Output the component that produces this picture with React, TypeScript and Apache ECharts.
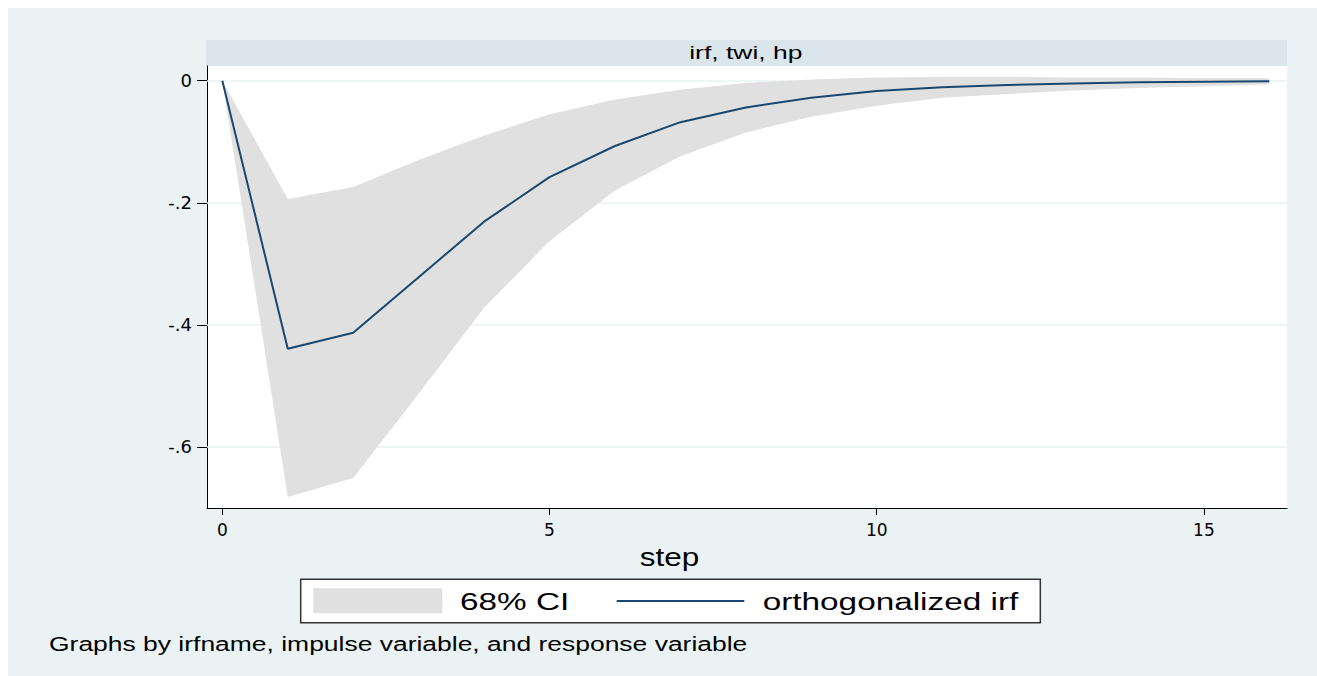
import React, { useEffect, useRef } from "react";
import * as echarts from "echarts";

// ---- data ----
const STEPS = [0, 1, 2, 3, 4, 5, 6, 7, 8, 9, 10, 11, 12, 13, 14, 15, 16];
const IRF = [0, -0.439, -0.413, -0.322, -0.231, -0.158, -0.107, -0.068, -0.044, -0.028, -0.017, -0.011, -0.007, -0.0045, -0.0028, -0.0017, -0.001];
const CI_UPPER = [0, -0.194, -0.174, -0.13, -0.09, -0.055, -0.031, -0.015, -0.004, 0.002, 0.005, 0.006, 0.006, 0.005, 0.005, 0.004, 0.004];
const CI_LOWER = [0, -0.682, -0.651, -0.513, -0.372, -0.263, -0.18, -0.124, -0.085, -0.059, -0.041, -0.028, -0.022, -0.016, -0.012, -0.009, -0.0065];
const X_TICKS = [0, 5, 10, 15];
const Y_TICKS = [0, -0.2, -0.4, -0.6];
const STRIP_TITLE = "irf, twi, hp";
const X_TITLE = "step";
const LEGEND_CI = "68% CI";
const LEGEND_IRF = "orthogonalized irf";
const NOTE = "Graphs by irfname, impulse variable, and response variable";

const NAVY = "#1a476f";
const CI_GRAY = "#e0e0e0";
const BG = "#eaf2f3";
const TXT_FONT = "Liberation Sans";

export default function App() {
  const ref = useRef<HTMLDivElement>(null);

  useEffect(() => {
    document.body.style.margin = "0";
    document.documentElement.style.overflow = "hidden";
    document.body.style.overflow = "hidden";
    const chart = echarts.init(ref.current!, null, { renderer: "svg" });

    const bandData = STEPS.map((s, i) => [s, CI_LOWER[i], CI_UPPER[i]]);
    const irfData = STEPS.map((s, i) => [s, IRF[i]]);

    const fmtY = (v: number) => (v === 0 ? "0" : String(v).replace("0.", "."));

    chart.setOption({
      animation: false,
      backgroundColor: BG,
      tooltip: { show: false },
      grid: {
        left: 199,
        right: 30,
        top: 58,
        bottom: 168,
        show: true,
        backgroundColor: "#ffffff",
        borderWidth: 0,
        containLabel: false,
        outerBoundsMode: "none",
      },
      xAxis: {
        type: "value",
        min: -0.234,
        max: 16.27,
        axisLine: { show: true, onZero: false, lineStyle: { color: "#000", width: 1 } },
        axisTick: { show: true, customValues: X_TICKS, length: 7, lineStyle: { color: "#000", width: 1 } },
        axisLabel: {
          customValues: X_TICKS,
          margin: 13,
          fontSize: 17,
          fontFamily: "DejaVu Sans",
          color: "#000",
        },
        splitLine: { show: false },
      },
      yAxis: {
        type: "value",
        min: -0.7,
        max: 0.024,
        axisLine: { show: true, onZero: false, lineStyle: { color: "#000", width: 1 } },
        axisTick: { show: true, customValues: Y_TICKS, length: 10, lineStyle: { color: "#000", width: 1 } },
        axisLabel: {
          customValues: Y_TICKS,
          margin: 15,
          fontSize: 18,
          fontFamily: "DejaVu Sans",
          color: "#000",
          formatter: fmtY,
        },
        splitLine: { show: false },
      },
      series: [
        {
          name: "gridlines",
          type: "line",
          data: [],
          silent: true,
          z: 1,
          markLine: {
            z: 1,
            silent: true,
            symbol: ["none", "none"],
            label: { show: false },
            lineStyle: { color: BG, width: 1.5, type: "solid" },
            data: Y_TICKS.map((v) => ({ yAxis: v })),
          },
        },
        {
          name: LEGEND_CI,
          type: "custom",
          data: bandData,
          encode: { x: 0, y: [1, 2] },
          silent: true,
          z: 2,
          renderItem: (params: any, api: any) => {
            if (params.dataIndex !== 0) return null;
            const pts: number[][] = [];
            for (let i = 0; i < STEPS.length; i++) pts.push(api.coord([STEPS[i], CI_UPPER[i]]));
            for (let i = STEPS.length - 1; i >= 0; i--) pts.push(api.coord([STEPS[i], CI_LOWER[i]]));
            return { type: "polygon", shape: { points: pts }, style: { fill: CI_GRAY } };
          },
        },
        {
          name: LEGEND_IRF,
          type: "line",
          data: irfData,
          symbol: "none",
          silent: true,
          lineStyle: { color: NAVY, width: 2 },
          z: 3,
        },
      ],
      graphic: [
        { type: "rect", shape: { x: 198, y: 32, width: 1081, height: 26 }, style: { fill: "#dae6eb" }, silent: true },
        {
          type: "text", x: 737.8, y: 44.7, scaleX: 1.43,
          style: { text: STRIP_TITLE, fontSize: 18.5, fontFamily: TXT_FONT, fill: "#000", align: "center", verticalAlign: "middle" },
        },
        {
          type: "text", x: 661.5, y: 549, scaleX: 1.26,
          style: { text: X_TITLE, fontSize: 25, fontFamily: TXT_FONT, fill: "#000", align: "center", verticalAlign: "middle" },
        },
        { type: "rect", shape: { x: 292.7, y: 571.3, width: 739.6, height: 43.4 }, style: { fill: "#fff", stroke: "#333", lineWidth: 1.5 } },
        { type: "rect", shape: { x: 305.3, y: 580.3, width: 129, height: 25 }, style: { fill: CI_GRAY } },
        {
          type: "text", x: 452, y: 593.5, scaleX: 1.36,
          style: { text: LEGEND_CI, fontSize: 24.5, fontFamily: TXT_FONT, fill: "#000", align: "left", verticalAlign: "middle" },
        },
        { type: "line", shape: { x1: 608.7, y1: 593, x2: 736.3, y2: 593 }, style: { stroke: NAVY, lineWidth: 2 } },
        {
          type: "text", x: 754.7, y: 593.5, scaleX: 1.36,
          style: { text: LEGEND_IRF, fontSize: 24.5, fontFamily: TXT_FONT, fill: "#000", align: "left", verticalAlign: "middle" },
        },
        {
          type: "text", x: 41, y: 636, scaleX: 1.26,
          style: { text: NOTE, fontSize: 21, fontFamily: TXT_FONT, fill: "#000", align: "left", verticalAlign: "middle" },
        },
      ],
    });

    return () => chart.dispose();
  }, []);

  return (
    <div style={{ position: "fixed", left: 0, top: 0, right: 0, bottom: 0, background: "#fff", overflow: "hidden" }}>
      <div style={{ position: "absolute", left: 8, top: 8, right: 0, bottom: 0, background: BG }}>
        <div ref={ref} style={{ position: "absolute", left: 0, top: 0, width: 1309, height: 668 }} />
      </div>
    </div>
  );
}
